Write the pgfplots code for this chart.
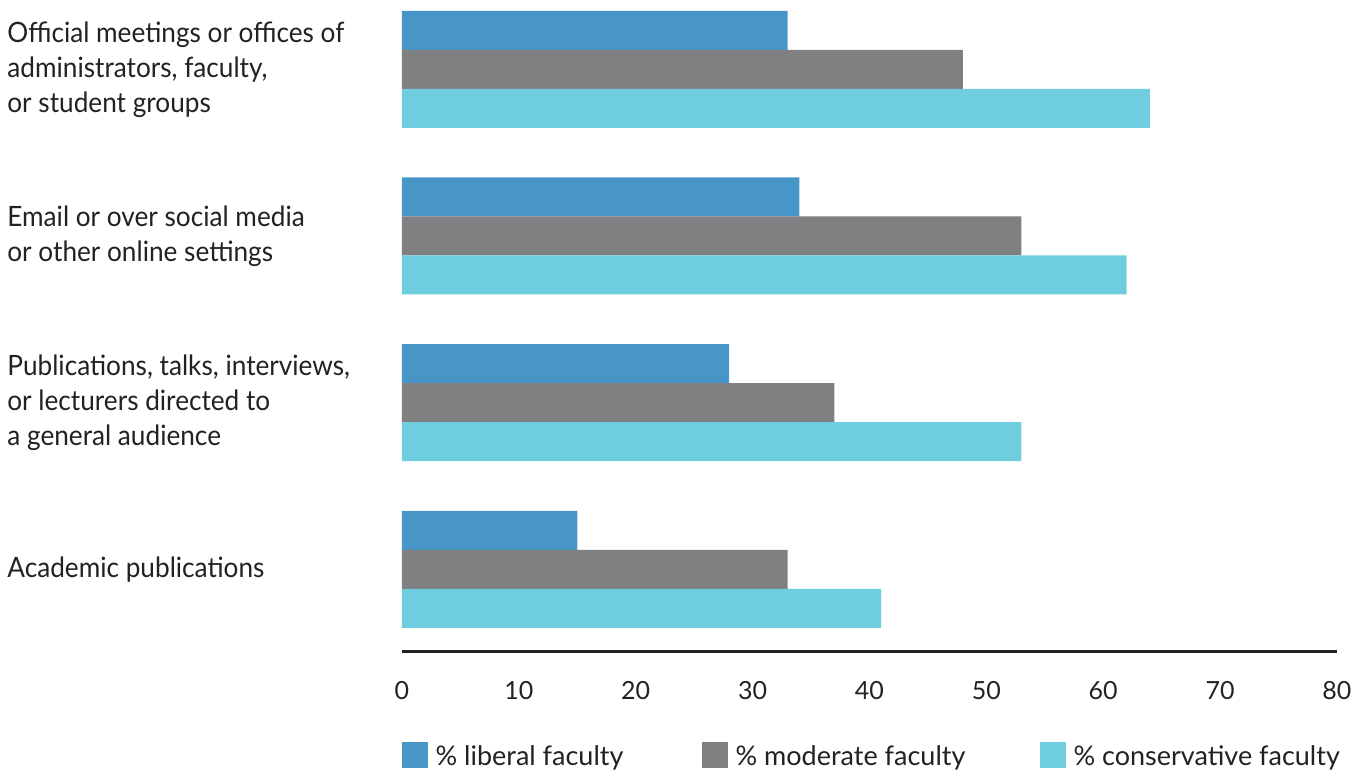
\documentclass[border=0pt]{standalone}
\usepackage{pgfplots}
\pgfplotsset{compat=1.18}
\usepackage{fontspec}
\setmainfont{Lato}
\newfontfamily\labelfont[FakeStretch=0.935]{Lato}

\definecolor{libcol}{HTML}{4896C8}
\definecolor{modcol}{HTML}{808083}
\definecolor{concol}{HTML}{6ECEE0}
\definecolor{txtcol}{HTML}{222222}

\begin{document}
\begin{tikzpicture}
% fixed page frame around the axis box (axis box lower-left corner at origin)
\useasboundingbox (-201pt,-63.1pt) rectangle (480pt,325.9pt);
\begin{axis}[
  at={(0,0)}, anchor=south west,
  scale only axis,
  width=467.5pt, height=324.6pt,
  xmin=0, xmax=80,
  ymin=-0.495, ymax=3.4,
  xbar, bar width=19.5pt,
  axis x line*=bottom, axis y line*=left,
  x axis line style={-, line width=1.5pt, color=txtcol},
  y axis line style={draw=none},
  major tick length=0pt,
  xtick={0,10,...,80},
  ytick={0,1,2,3},
  yticklabels={
    {Academic publications},
    {Publications, talks, interviews,\\or lecturers directed to\\a general audience},
    {Email or over social media\\or other online settings},
    {Official meetings or offices of\\administrators, faculty,\\or student groups}},
  yticklabel style={anchor=west, align=left, inner sep=0pt, xshift=-197.5pt,
    font=\labelfont\fontsize{14pt}{17.5pt}\selectfont, text=txtcol},
  xticklabel style={anchor=north, inner sep=0pt, yshift=-14.5pt,
    font=\fontsize{12.5pt}{15pt}\selectfont, text=txtcol},
  /pgf/number format/assume math mode=true,
  legend columns=3,
  legend style={at={(0,0)}, anchor=west, yshift=-51.6pt, draw=none, fill=none,
    inner sep=0pt, font=\fontsize{13.5pt}{16pt}\selectfont, text=txtcol,
    nodes={inner sep=0pt},
    /tikz/every even column/.append style={column sep=0pt},
    /tikz/every odd column/.append style={column sep=0pt}},
  legend image code/.code={\fill[#1] (0pt,-6.4pt) rectangle (12.6pt,6.4pt);},
]
\addplot[fill=libcol, draw=none, bar shift=19.5pt]
  coordinates {(15,0) (28,1) (34,2) (33,3)};
\addlegendentry{\makebox[137.4pt][l]{\hspace{4pt}\raisebox{-1.8pt}{\% liberal faculty}}}
\addplot[fill=modcol, draw=none, bar shift=0pt]
  coordinates {(33,0) (37,1) (53,2) (48,3)};
\addlegendentry{\makebox[156.4pt][l]{\hspace{4pt}\raisebox{-1.8pt}{\% moderate faculty}}}
\addplot[fill=concol, draw=none, bar shift=-19.5pt]
  coordinates {(41,0) (53,1) (62,2) (64,3)};
\addlegendentry{\hspace{4pt}\raisebox{-1.8pt}{\% conservative faculty}}
\end{axis}
\end{tikzpicture}
\end{document}
